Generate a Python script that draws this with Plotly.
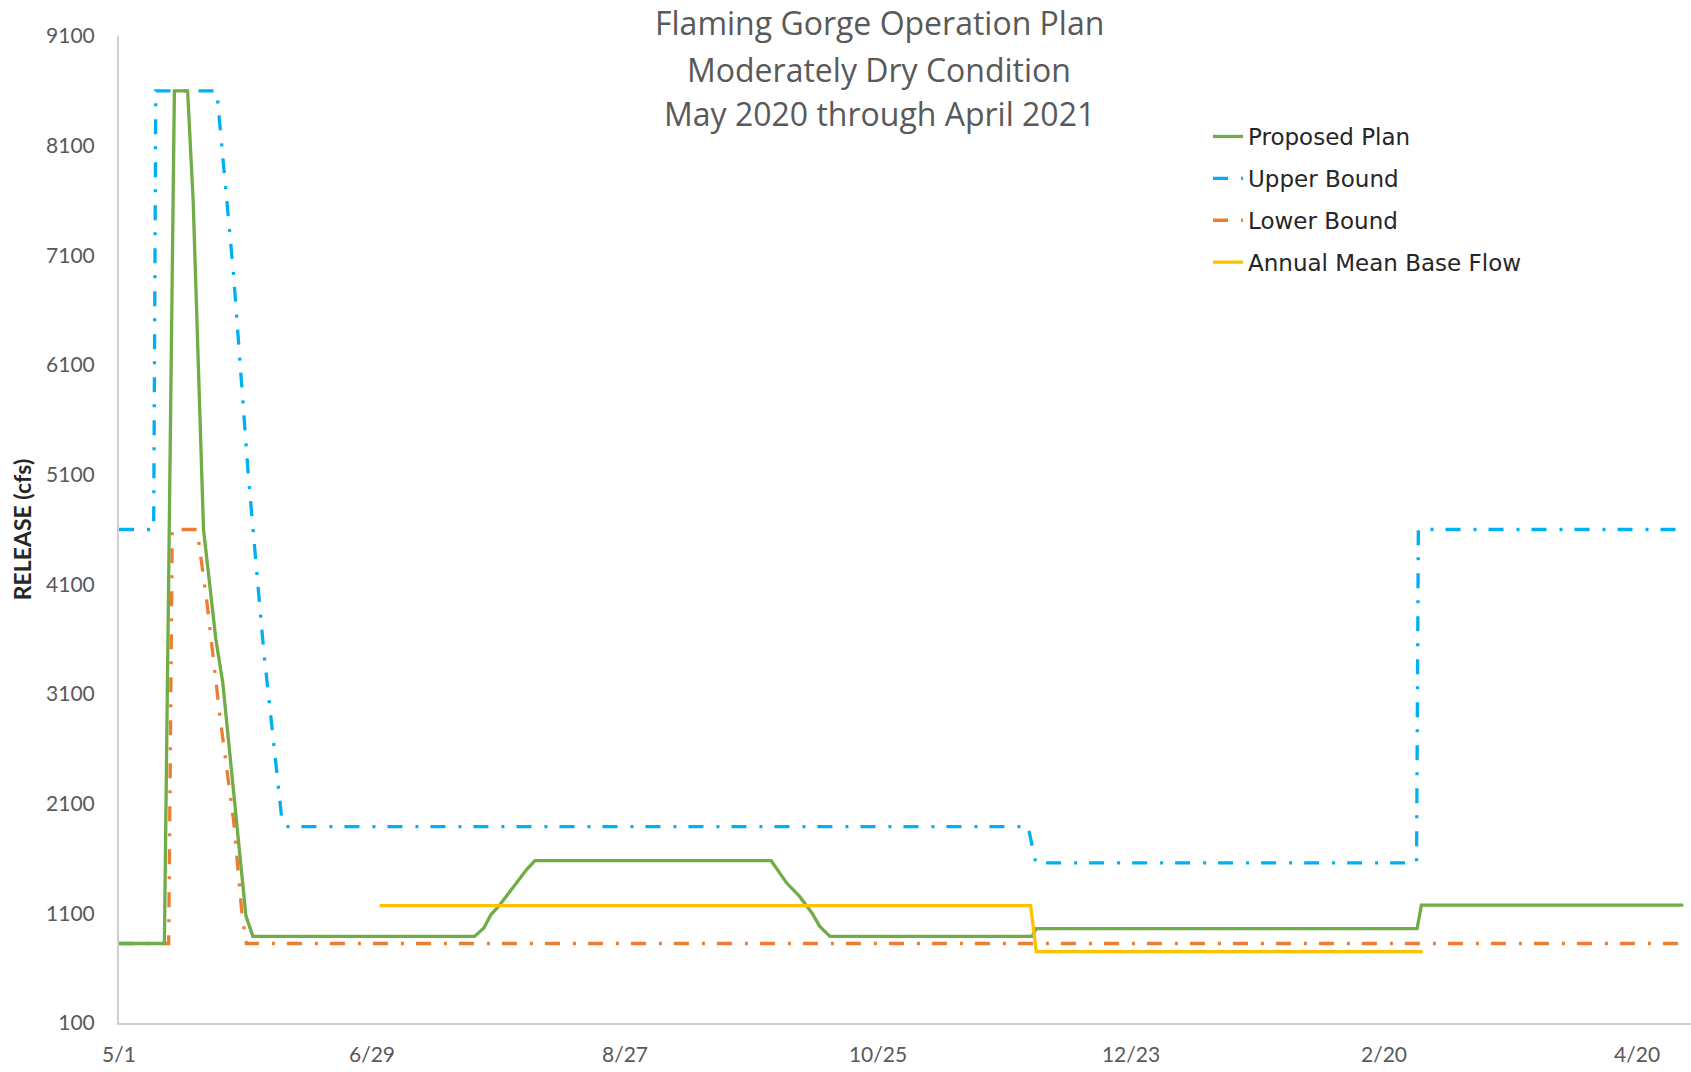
import plotly.graph_objects as go

# ---------------- data ----------------
plan_dates = ["2020-05-01", "2020-05-11 14:00", "2020-05-13 22:00", "2020-05-17 00:00",
              "2020-05-18 07:00", "2020-05-20 17:00", "2020-05-23 14:00", "2020-05-25 05:00",
              "2020-05-30 14:00", "2020-06-01 05:00", "2020-07-22 22:00", "2020-07-25 02:00",
              "2020-07-26 17:00", "2020-07-28 12:00", "2020-07-31 19:00", "2020-08-04 00:00",
              "2020-08-06 00:00", "2020-09-30 02:00", "2020-10-03 17:00", "2020-10-06 17:00",
              "2020-10-09 14:00", "2020-10-11 10:00", "2020-10-13 19:00", "2020-11-29 22:00",
              "2020-11-30 22:00", "2021-02-27 17:00", "2021-02-28 17:00", "2021-04-30 19:00"]
plan_values = [825, 825, 8600, 8600,
               7600, 4600, 3600, 3200,
               1080, 890, 890, 966,
               1087, 1163, 1331, 1497,
               1580, 1580, 1376, 1254,
               1103, 981, 890, 890,
               960, 960, 1175, 1175]

upper_dates = ["2020-05-01", "2020-05-09 02:00", "2020-05-09 14:00", "2020-05-23 19:00",
               "2020-05-27 17:00", "2020-05-31 05:00", "2020-06-03 17:00", "2020-06-08 00:00",
               "2020-06-08 19:00", "2020-11-29 00:00", "2020-11-30 19:00", "2021-02-27 14:00",
               "2021-02-28 00:00", "2021-04-30 14:00"]
upper_values = [4600, 4600, 8600, 8600,
                6930, 5070, 3510, 1950,
                1890, 1890, 1560, 1560,
                4600, 4600]

lower_dates = ["2020-05-01", "2020-05-12 14:00", "2020-05-13 10:00", "2020-05-19 05:00",
               "2020-05-21 12:00", "2020-05-24 14:00", "2020-05-27 17:00", "2020-05-29 17:00",
               "2020-05-30 17:00", "2021-05-01 00:00"]
lower_values = [825, 825, 4600, 4600,
                3940, 2880, 1950, 1080,
                825, 825]

base_dates = ["2020-06-30 19:00", "2020-11-29 14:00", "2020-11-30 22:00", "2021-03-01 00:00"]
base_values = [1170, 1170, 750, 750]

x_tick_dates = ["2020-05-01", "2020-06-29", "2020-08-27", "2020-10-25",
                "2020-12-23", "2021-02-20", "2021-04-20"]
x_tick_labels = ["5/1", "6/29", "8/27", "10/25", "12/23", "2/20", "4/20"]
y_tick_values = [100, 1100, 2100, 3100, 4100, 5100, 6100, 7100, 8100, 9100]

title_lines = ["Flaming Gorge Operation Plan",
               "Moderately Dry Condition",
               "May 2020 through April 2021"]

# ---------------- styles ----------------
GREEN = "#70AD47"
BLUE = "#00B0F0"
ORANGE = "#ED7D31"
YELLOW = "#FFC000"
DASHDOT = "15px,13px,3px,12px"
LW = 3.3
TICK_FONT = dict(family="Lato, Open Sans, sans-serif", size=21, color="#595959")

fig = go.Figure()
fig.add_trace(go.Scatter(x=lower_dates, y=lower_values, mode="lines", name="Lower Bound",
                         line=dict(color=ORANGE, width=LW, dash=DASHDOT),
                         legendrank=3, legendgroup="c"))
fig.add_trace(go.Scatter(x=upper_dates, y=upper_values, mode="lines", name="Upper Bound",
                         line=dict(color=BLUE, width=LW, dash=DASHDOT),
                         legendrank=2, legendgroup="b"))
fig.add_trace(go.Scatter(x=plan_dates, y=plan_values, mode="lines", name="Proposed Plan",
                         line=dict(color=GREEN, width=LW),
                         legendrank=1, legendgroup="a"))
fig.add_trace(go.Scatter(x=base_dates, y=base_values, mode="lines", name="Annual Mean Base Flow",
                         line=dict(color=YELLOW, width=LW),
                         legendrank=4, legendgroup="d"))

L, R, T, B = 119, 0, 36, 49
W, H = 1691, 1072
plot_h = H - T - B

def paper_y(py):
    return (H - B - py) / plot_h

def paper_x(px):
    return (px - L) / (W - L - R)

annotations = []
for line, py in zip(title_lines, [23, 69, 113]):
    annotations.append(dict(text=line, xref="paper", yref="paper",
                            x=paper_x(879), y=paper_y(py), xanchor="center", yanchor="middle",
                            showarrow=False,
                            font=dict(family="Open Sans, Lato, sans-serif", size=32, color="#595959")))

fig.update_layout(
    width=W, height=H,
    margin=dict(l=L, r=R, t=T, b=B),
    paper_bgcolor="white", plot_bgcolor="white",
    showlegend=True,
    legend=dict(x=paper_x(1208), y=paper_y(115), xanchor="left", yanchor="top",
                xref="paper", yref="paper",
                bgcolor="rgba(0,0,0,0)", borderwidth=0,
                tracegroupgap=9, traceorder="grouped",
                font=dict(family="DejaVu Sans, sans-serif", size=23, color="#262626")),
    annotations=annotations,
    xaxis=dict(type="date", range=["2020-05-01", "2021-05-02 14:00"],
               tickmode="array", tickvals=x_tick_dates, ticktext=x_tick_labels,
               showgrid=False, zeroline=False, showline=True,
               linecolor="#D0D0D0", linewidth=2, ticks="",
               tickfont=TICK_FONT, ticklabelstandoff=12),
    yaxis=dict(range=[100, 9100], tickmode="array", tickvals=y_tick_values,
               tickformat="d", showgrid=False, zeroline=False, showline=True,
               linecolor="#D0D0D0", linewidth=2, ticks="",
               tickfont=TICK_FONT, ticklabelstandoff=18,
               title=dict(text="<b>RELEASE (cfs)</b>", standoff=8,
                          font=dict(family="Lato, Open Sans, sans-serif", size=23, color="#262626"))),
)

fig.write_html("out.html",
               config={"displayModeBar": False},
               post_script="document.body.style.margin='0';document.body.style.overflow='hidden';")
